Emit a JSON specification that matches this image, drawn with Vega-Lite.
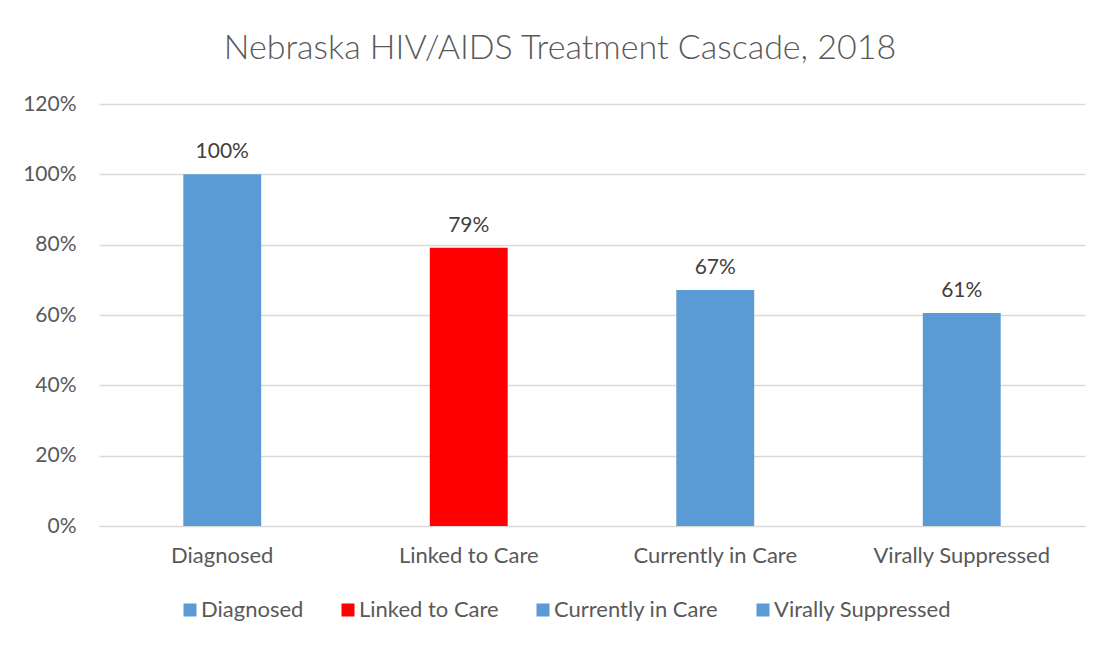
{
  "$schema": "https://vega.github.io/schema/vega-lite/v6.json",
  "autosize": "none",
  "width": 986,
  "height": 422,
  "padding": {"left": 99, "top": 104, "right": 16, "bottom": 119},
  "background": "white",
  "title": {
    "text": "Nebraska HIV/AIDS Treatment Cascade, 2018",
    "font": "Lato",
    "fontSize": 34,
    "fontWeight": 300,
    "color": "#595959",
    "anchor": "middle",
    "dx": -32,
    "offset": 27
  },
  "data": {
    "values": [
      {"stage": "Diagnosed", "pct": 1.0},
      {"stage": "Linked to Care", "pct": 0.791},
      {"stage": "Currently in Care", "pct": 0.671},
      {"stage": "Virally Suppressed", "pct": 0.606}
    ]
  },
  "config": {
    "view": {"stroke": null},
    "font": "Lato",
    "axis": {"labelColor": "#595959", "labelFont": "Lato", "labelFontSize": 21, "domain": false, "ticks": false, "title": null}
  },
  "encoding": {
    "x": {
      "field": "stage",
      "type": "nominal",
      "sort": null,
      "scale": {"paddingInner": 0.684, "paddingOuter": 0.342},
      "axis": {"labelAngle": 0, "labelFontSize": 22, "labelPadding": 19, "grid": false, "domain": true, "domainColor": "#D9D9D9", "domainWidth": 1}
    },
    "y": {
      "field": "pct",
      "type": "quantitative",
      "scale": {"domain": [0, 1.2], "nice": false},
      "axis": {"values": [0, 0.2, 0.4, 0.6, 0.8, 1.0, 1.2], "format": ".0%", "labelPadding": 23, "grid": true, "gridColor": "#D9D9D9", "gridWidth": 1.5}
    }
  },
  "layer": [
    {
      "mark": {"type": "bar"},
      "encoding": {
        "color": {
          "field": "stage",
          "type": "nominal",
          "sort": null,
          "scale": {"domain": ["Diagnosed", "Linked to Care", "Currently in Care", "Virally Suppressed"], "range": ["#5B9BD5", "#FF0000", "#5B9BD5", "#5B9BD5"]},
          "legend": {
            "title": null,
            "orient": "none",
            "direction": "horizontal",
            "legendX": 80,
            "legendY": 495,
            "symbolType": "square",
            "symbolSize": 169,
            "symbolStrokeWidth": 0,
            "labelFontSize": 22,
            "labelFont": "Lato",
            "labelColor": "#595959",
            "labelOffset": 0,
            "columnPadding": 33,
            "labelLimit": 300
          }
        }
      }
    },
    {
      "mark": {"type": "text", "baseline": "bottom", "dy": -12, "fontSize": 21, "color": "#404040"},
      "encoding": {
        "text": {"field": "pct", "type": "quantitative", "format": ".0%"}
      }
    }
  ]
}
